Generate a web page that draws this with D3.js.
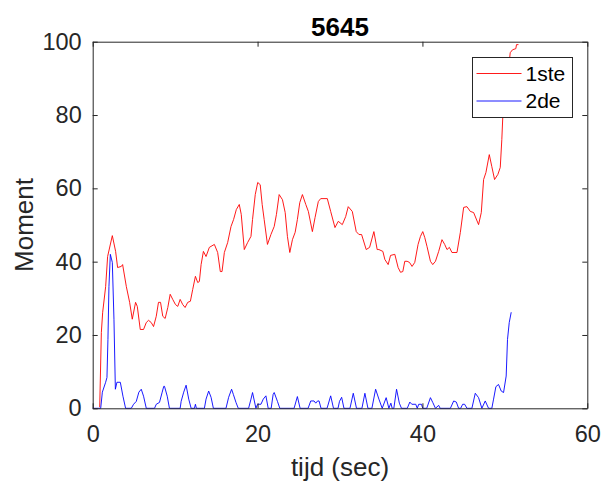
<!DOCTYPE html>
<html>
<head>
<meta charset="utf-8">
<script src="https://cdn.jsdelivr.net/npm/d3@7"></script>
<style>
  body { margin: 0; background: #fff; }
  svg { font-family: "Liberation Sans", Arial, Helvetica, sans-serif; }
</style>
</head>
<body>
<div class="chart"></div>
<script>
const xTicks = [0, 20, 40, 60];
const yTicks = [0, 20, 40, 60, 80, 100];
const seriesNames = ["1ste", "2de"];

const redTime = [0.85, 1.05, 1.21, 1.57, 1.81, 2.38, 2.78, 3.02, 3.47, 3.63, 4.08, 4.48, 4.8, 5.2, 5.41, 5.77, 6.17, 6.5, 6.77, 7.1, 7.38, 7.71, 7.98, 8.23, 8.5, 8.79, 9.11, 9.4, 9.71, 10.04, 10.32, 10.61, 10.92, 11.21, 11.53, 11.85, 12.13, 12.46, 12.74, 12.94, 13.15, 13.43, 13.75, 14.15, 14.76, 15.16, 15.48, 15.69, 15.97, 16.37, 16.78, 17.09, 17.42, 17.78, 18.02, 18.39, 18.79, 19.2, 19.39, 19.72, 20.02, 20.32, 20.56, 20.8, 21.2, 21.62, 22.02, 22.29, 22.62, 23.02, 23.35, 23.62, 23.91, 24.23, 24.56, 24.83, 25.12, 25.44, 25.85, 26.16, 26.65, 26.97, 27.37, 27.66, 28.46, 28.87, 29.39, 29.79, 30.28, 30.69, 31.0, 31.49, 31.97, 32.3, 32.62, 33.18, 33.59, 34.11, 34.51, 34.72, 35.2, 35.44, 35.84, 36.13, 36.65, 37.05, 37.34, 37.62, 37.86, 38.14, 38.43, 38.74, 39.07, 39.47, 39.76, 40.04, 40.28, 40.56, 40.97, 41.25, 41.58, 41.97, 42.37, 42.7, 42.98, 43.27, 43.58, 44.19, 44.6, 45.0, 45.4, 45.81, 46.21, 46.81, 47.14, 47.42, 47.7, 48.11, 48.42, 48.75, 49.15, 49.44, 49.63, 49.75, 50.04, 50.44, 50.65, 50.93, 51.33, 51.41, 51.65];
const redValue = [0.3, 20.7, 26.2, 33.2, 41.4, 47.1, 42.8, 38.4, 38.7, 39.2, 33.2, 28.9, 24.3, 28.9, 27.8, 21.5, 21.5, 23.4, 24.0, 23.4, 22.3, 25.1, 28.9, 28.9, 25.1, 24.5, 27.5, 31.1, 29.7, 28.3, 27.8, 29.7, 28.3, 27.5, 28.9, 29.2, 32.4, 36.0, 34.3, 34.6, 39.2, 42.8, 41.4, 43.9, 44.7, 42.5, 37.3, 37.3, 42.5, 45.2, 49.6, 51.5, 54.2, 55.6, 52.9, 43.3, 45.2, 46.9, 51.5, 58.3, 61.6, 61.0, 55.6, 51.5, 44.7, 47.4, 49.6, 52.9, 58.3, 56.9, 53.4, 46.9, 42.5, 46.0, 48.0, 51.5, 56.1, 58.3, 55.6, 53.7, 48.2, 52.0, 56.4, 57.2, 57.2, 53.7, 49.3, 51.0, 50.1, 52.3, 55.0, 53.7, 48.2, 47.4, 47.4, 43.3, 43.9, 48.2, 43.3, 43.3, 42.8, 40.6, 39.2, 41.7, 42.0, 38.4, 37.1, 37.3, 40.1, 40.1, 39.8, 38.7, 39.8, 44.7, 46.9, 48.2, 46.6, 44.1, 40.1, 39.2, 40.1, 42.8, 46.0, 44.7, 43.3, 43.9, 42.5, 42.5, 48.0, 54.8, 55.0, 53.7, 53.4, 50.1, 53.4, 62.4, 64.3, 69.2, 65.9, 62.4, 63.8, 65.7, 73.3, 79.6, 86.9, 92.4, 97.0, 97.8, 98.1, 99.2, 99.2];

const blueTime = [0, 0.97, 1.17, 1.57, 1.73, 1.85, 1.97, 2.14, 2.38, 2.58, 2.75, 2.94, 3.35, 3.67, 3.99, 4.68, 4.96, 5.29, 5.6, 5.89, 6.17, 6.5, 7.5, 7.71, 8.1, 8.43, 8.62, 8.71, 9.04, 9.31, 10.61, 10.73, 11.04, 11.33, 11.65, 11.94, 12.34, 12.46, 12.58, 13.55, 13.75, 14.07, 14.36, 14.64, 16.17, 16.49, 16.85, 17.06, 17.38, 17.66, 18.91, 19.2, 19.39, 19.8, 20.0, 20.41, 20.69, 21.01, 21.29, 21.65, 21.89, 22.02, 22.41, 22.7, 24.43, 24.83, 25.16, 26.13, 26.45, 26.85, 27.06, 27.28, 27.46, 27.7, 28.43, 28.87, 29.21, 29.76, 29.94, 30.2, 30.48, 31.21, 31.61, 32.0, 32.66, 33.02, 33.39, 33.87, 34.32, 34.72, 35.12, 35.6, 35.93, 36.17, 36.33, 36.53, 36.86, 37.2, 37.46, 38.16, 38.47, 38.71, 39.19, 39.37, 39.55, 39.88, 40.04, 40.52, 40.97, 41.25, 41.58, 41.97, 42.15, 43.39, 43.79, 44.11, 44.39, 44.64, 44.88, 45.12, 45.4, 46.0, 46.41, 46.81, 47.21, 47.62, 48.02, 48.42, 48.63, 48.91, 49.23, 49.56, 49.84, 50.16, 50.32, 50.53, 50.77];
const blueValue = [0, 0, 4.4, 7.1, 8.4, 18.8, 33.2, 42.0, 39.8, 24.3, 5.2, 7.1, 7.1, 3.3, 0, 0, 1.1, 1.9, 4.4, 5.2, 3.3, 0, 0, 1.1, 1.6, 4.4, 6.0, 6.0, 3.3, 0, 0, 1.9, 4.4, 6.3, 2.5, 0, 0, 1.1, 0, 0, 2.5, 4.7, 3.0, 0, 0, 3.0, 5.2, 3.8, 1.6, 0, 0, 2.5, 4.3, 0, 1.1, 1.1, 2.5, 3.4, 0, 0, 3.8, 4.3, 1.9, 0, 0, 3.2, 0, 0, 2.0, 2.0, 1.4, 2.0, 2.0, 0, 0, 3.4, 0, 0, 1.9, 3.0, 0, 0, 4.1, 0, 0, 4.1, 0, 0, 5.2, 2.5, 0, 2.9, 0, 1.4, 0, 0, 5.2, 1.4, 0, 0, 1.7, 1.1, 1.1, 0, 1.1, 1.1, 0, 0, 2.9, 1.6, 0, 0.8, 0, 0, 2.0, 1.7, 0, 0, 1.1, 1.1, 0, 0, 4.1, 2.9, 0, 2.0, 0, 0, 2.5, 5.9, 6.5, 4.7, 4.3, 8.8, 18.8, 23.4, 26.2];

const width = 603;
const height = 483;
const plotLeft = 92.7, plotRight = 587.3, plotTop = 41.7, plotBottom = 408.3;
const axisColor = "#262626";

const svg = d3
  .select(".chart")
  .append("svg")
  .attr("width", width)
  .attr("height", height);

const x = d3.scaleLinear().domain([0, 60]).range([plotLeft, plotRight]);
const y = d3.scaleLinear().domain([0, 100]).range([plotBottom, plotTop]);

// series lines
const line = d3
  .line()
  .x(d => x(d[0]))
  .y(d => y(d[1]));

svg
  .append("path")
  .datum(redTime.map((t, i) => [t, redValue[i]]))
  .attr("d", line)
  .attr("fill", "none")
  .attr("stroke", "#ff0000")
  .attr("stroke-width", 0.9);

svg
  .append("path")
  .datum(blueTime.map((t, i) => [t, blueValue[i]]))
  .attr("d", line)
  .attr("fill", "none")
  .attr("stroke", "#0000ff")
  .attr("stroke-width", 0.9);

// axes, MATLAB box style with inward ticks
const styleAxis = g => {
  g.selectAll("path, line").attr("stroke", axisColor);
  g.selectAll("text")
    .attr("fill", axisColor)
    .style("font-size", "23.5px")
    .style("font-family", "Liberation Sans, Arial, sans-serif");
};

svg
  .append("g")
  .attr("transform", `translate(0, ${plotBottom})`)
  .call(d3.axisBottom(x).tickValues(xTicks).tickSizeInner(-5).tickSizeOuter(0).tickPadding(17))
  .call(styleAxis);

svg
  .append("g")
  .attr("transform", `translate(${plotLeft}, 0)`)
  .call(d3.axisLeft(y).tickValues(yTicks).tickSizeInner(-5).tickSizeOuter(0).tickPadding(11))
  .call(styleAxis);

svg
  .append("g")
  .attr("transform", `translate(0, ${plotTop})`)
  .call(d3.axisTop(x).tickValues(xTicks).tickSizeInner(-5).tickSizeOuter(0).tickFormat(""))
  .call(styleAxis);

svg
  .append("g")
  .attr("transform", `translate(${plotRight}, 0)`)
  .call(d3.axisRight(y).tickValues(yTicks).tickSizeInner(-5).tickSizeOuter(0).tickFormat(""))
  .call(styleAxis);

svg.selectAll(".domain").attr("stroke-width", 1);

// title and axis labels
svg
  .append("text")
  .attr("x", (plotLeft + plotRight) / 2)
  .attr("y", 36)
  .attr("text-anchor", "middle")
  .style("font-size", "26px")
  .style("font-weight", "bold")
  .attr("fill", "#000")
  .text("5645");

svg
  .append("text")
  .attr("x", (plotLeft + plotRight) / 2)
  .attr("y", 476)
  .attr("text-anchor", "middle")
  .style("font-size", "26px")
  .attr("fill", axisColor)
  .text("tijd (sec)");

svg
  .append("text")
  .attr("transform", "rotate(-90)")
  .attr("x", -(plotTop + plotBottom) / 2)
  .attr("y", 33)
  .attr("text-anchor", "middle")
  .style("font-size", "26px")
  .attr("fill", axisColor)
  .text("Moment");

// legend
const legend = svg.append("g").attr("transform", "translate(472.5, 57.5)");
legend
  .append("rect")
  .attr("width", 100)
  .attr("height", 60)
  .attr("fill", "#fff")
  .attr("stroke", axisColor)
  .attr("stroke-width", 1);

const legendColors = ["#ff0000", "#0000ff"];
seriesNames.forEach((name, i) => {
  const ly = 16 + i * 27.5;
  legend
    .append("line")
    .attr("x1", 4)
    .attr("x2", 49)
    .attr("y1", ly)
    .attr("y2", ly)
    .attr("stroke", legendColors[i])
    .attr("stroke-width", 0.9);
  legend
    .append("text")
    .attr("x", 53)
    .attr("y", ly)
    .attr("dy", "0.35em")
    .style("font-size", "21px")
    .attr("fill", "#000")
    .text(name);
});
</script>
</body>
</html>
